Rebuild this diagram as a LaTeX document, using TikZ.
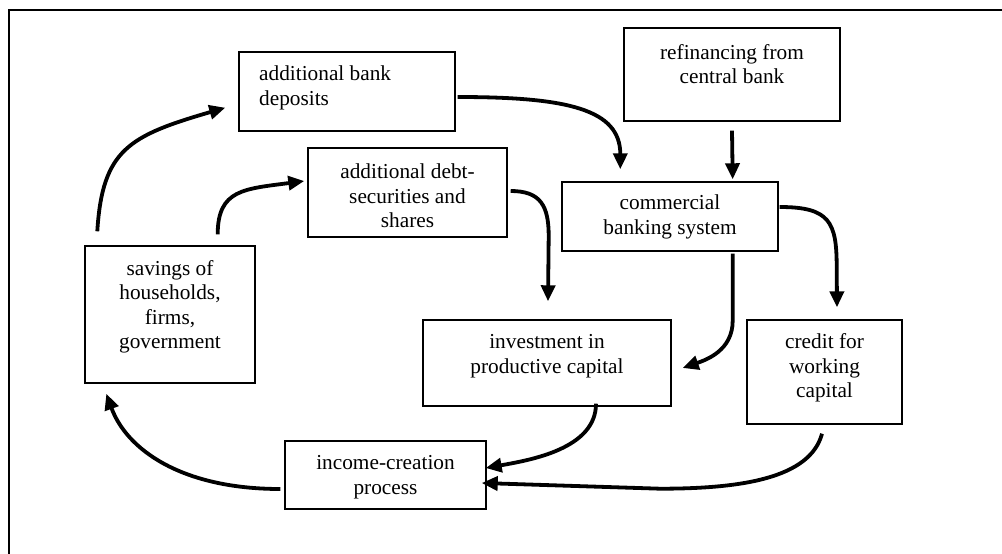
\documentclass[tikz,border=0pt]{standalone}
\usepackage{fontspec}
\setmainfont{Liberation Serif}
\usetikzlibrary{arrows.meta}
\begin{document}
\begin{tikzpicture}[x=1pt,y=-1pt,
  box/.style={draw,line width=1.4pt,inner sep=0pt},
  txt/.style={inner sep=0pt,align=center,font=\fontsize{21.3}{24.5}\selectfont},
  arr/.style={line width=3.8pt,-{Triangle[length=16pt,width=14pt]}}]
\useasboundingbox (0,0) rectangle (1002,554);
\draw[line width=1.8pt] (9,554) -- (9,10) -- (1002,10);

% boxes
\node[box,minimum width=216pt,minimum height=79pt] (dep) at (347,91.5) {};
\node[box,minimum width=199pt,minimum height=89pt] (debt) at (407.5,192.5) {};
\node[box,minimum width=216pt,minimum height=93pt] (ref) at (732,74.5) {};
\node[box,minimum width=216pt,minimum height=69pt] (com) at (670,216.5) {};
\node[box,minimum width=170pt,minimum height=137pt] (sav) at (170,314.5) {};
\node[box,minimum width=248pt,minimum height=86pt] (inv) at (547,363) {};
\node[box,minimum width=155pt,minimum height=104pt] (cred) at (824.5,372) {};
\node[box,minimum width=201pt,minimum height=68pt] (inc) at (385.5,475) {};

% texts
\node[txt,align=left,anchor=west] (depT) at (259,88) {additional bank\\deposits};
\node[txt] (debtT) at (407.5,196) {additional debt-\\securities and\\shares};
\node[txt] (refT) at (732,64) {refinancing from\\central bank};
\node[txt] (comT) at (670,217) {commercial\\banking system};
\node[txt] (savT) at (170,307) {savings of\\households,\\firms,\\government};
\node[txt] (invT) at (547,356) {investment in\\productive capital};
\node[txt] (credT) at (824.5,368) {credit for\\working\\capital};
\node[txt] (incT) at (385.5,477) {income-creation\\process};

% connectors
\draw[arr] ([shift={(13,-14)}]sav.north west) .. controls +(5,-82) and +(-96,28) .. ([shift={(-13,-24)}]dep.south west);
\draw[arr] ([shift={(-38,-11)}]sav.north east) .. controls +(0,-45) and +(-60,8) .. ([shift={(-3,-11.5)}]debt.west);
\draw[arr] ([shift={(2,5.5)}]dep.east) .. controls +(110,0) and +(0,-60) .. ([shift={(59,-12)}]com.north west);
\draw[arr] ([shift={(0,9)}]ref.south) -- ([shift={(-46,-2)}]com.north east);
\draw[arr] ([shift={(3,-1.5)}]debt.east) .. controls +(30,0) and +(0,-30) .. ++(38,45) -- ([shift={(1,-18)}]inv.north);
\draw[arr] ([shift={(-46,2)}]com.south east) -- ++(0,67) .. controls +(0,30) and +(23,-8) .. ([shift={(11,5)}]inv.east);
\draw[arr] ([shift={(1,-9.5)}]com.east) .. controls +(50,0) and +(0,-45) .. ++(57,60) -- ([shift={(12.5,-12)}]cred.north);
\draw[arr] ([shift={(49,-3)}]inv.south) .. controls +(0,45) and +(45,-8) .. ([shift={(-1,-7)}]inc.east);
\draw[arr] ([shift={(-2.5,9)}]cred.south) .. controls +(-12,45) and +(80,0) .. ++(-162,55) -- ([shift={(-5,8)}]inc.east);
\draw[arr] ([shift={(-4,14)}]inc.west) .. controls +(-100,0) and +(20,55) .. ([shift={(22,10)}]sav.south west);
\end{tikzpicture}
\end{document}
